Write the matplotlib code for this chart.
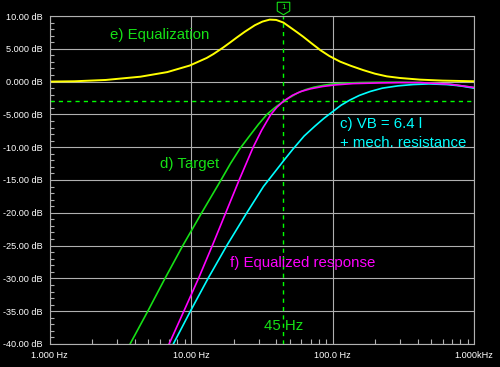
import numpy as np
import matplotlib.pyplot as plt
from matplotlib.ticker import FixedLocator, NullFormatter

plt.rcParams['font.family'] = ['Liberation Sans', 'DejaVu Sans']

# e) Equalization (yellow)
eq_f = [1.0, 1.5, 2.5, 4.4, 6.8, 9.8, 12.9, 14.4, 16.9, 19.0, 21.0, 24.0, 28.3, 32.0, 36.0,
        40.0, 45.0, 50.0, 56.0, 62.0, 70.0, 82.0, 95.0, 113.0, 135.0, 165.0, 200.0, 242.0,
        300.0, 415.0, 600.0, 1000.0]
eq_db = [0.0, 0.05, 0.25, 0.75, 1.45, 2.45, 3.6, 4.2, 5.2, 6.0, 6.7, 7.6, 8.6, 9.15, 9.45,
         9.4, 9.0, 8.3, 7.55, 6.85, 5.95, 4.8, 3.9, 3.05, 2.4, 1.75, 1.2, 0.8,
         0.55, 0.3, 0.15, 0.05]

# d) Target (green)
tg_f = [3.71, 4.95, 6.55, 8.75, 11.9, 16.3, 19.0, 22.2, 26.1, 30.0, 34.4, 39.0, 45.0, 51.0,
        57.0, 65.0, 74.0, 87.0, 101.0, 125.0, 156.0, 220.0, 300.0, 415.0, 675.0, 1000.0]
tg_db = [-40, -35, -30, -25, -20, -15, -12.5, -10.2, -8.2, -6.5, -5.0, -4.0, -3.0, -2.3,
         -1.7, -1.2, -0.85, -0.55, -0.35, -0.22, -0.15, -0.1, -0.1, -0.15, -0.4, -0.9]

# c) VB = 6.4 l + mech. resistance (cyan)
vb_f = [7.0, 7.5, 9.9, 13.2, 17.9, 24.8, 32.5, 45.0, 52.5, 63.0, 75.0, 87.0, 100.0, 115.0,
        133.0, 155.0, 185.0, 225.0, 290.0, 371.0, 480.0, 641.0, 800.0, 1000.0]
vb_db = [-42.8, -40, -35, -30, -25, -20, -16, -12.1, -10.3, -8.3, -6.8, -5.6, -4.6, -3.6,
         -2.8, -2.1, -1.5, -1.0, -0.65, -0.45, -0.35, -0.45, -0.65, -1.0]

# f) Equalized response (magenta)
er_f = [6.6, 7.0, 8.9, 11.3, 14.15, 17.6, 21.9, 27.5, 31.6, 36.7, 40.5, 45.0, 52.0, 60.0,
        70.0, 85.0, 105.0, 140.0, 217.0, 300.0, 415.0, 676.0, 1000.0]
er_db = [-41.3, -40, -35, -30, -25, -20, -15, -10, -7.4, -5.0, -3.9, -3.0, -2.1, -1.5,
         -1.1, -0.75, -0.5, -0.3, -0.2, -0.15, -0.15, -0.4, -0.9]

y_ticks = [10, 5, 0, -5, -10, -15, -20, -25, -30, -35, -40]
y_labels = ['10.00 dB', '5.000 dB', '0.000 dB', '-5.000 dB', '-10.00 dB', '-15.00 dB',
            '-20.00 dB', '-25.00 dB', '-30.00 dB', '-35.00 dB', '-40.00 dB']
x_ticks = [1, 10, 100, 1000]
x_labels = ['1.000 Hz', '10.00 Hz', '100.0 Hz', '1.000kHz']

marker_f = 45.0
marker_db = -3.0

green = '#16e016'
grid_c = '#b0b0b0'

fig = plt.figure(figsize=(5, 3.67), dpi=100, facecolor='black')
ax = fig.add_axes([0.099, 0.0627, 0.849, 0.8937], facecolor='black')

ax.set_xscale('log')
ax.set_xlim(1, 1000)
ax.set_ylim(-40, 10)

ax.set_yticks(y_ticks)
ax.set_yticklabels(y_labels)
ax.set_xticks(x_ticks)
ax.set_xticklabels(x_labels)
ax.yaxis.set_minor_locator(FixedLocator(np.arange(-40, 11, 1)))
minor_x = [m * d for d in (1, 10, 100) for m in range(2, 10)]
ax.xaxis.set_minor_locator(FixedLocator(minor_x))
ax.xaxis.set_minor_formatter(NullFormatter())

ax.tick_params(which='major', length=0, colors='white', labelsize=6.6, pad=5)
ax.tick_params(which='minor', direction='in', color=grid_c, width=0.8)
ax.tick_params(axis='y', which='minor', length=3.2)
ax.tick_params(axis='x', which='minor', length=3.8)

ax.grid(True, which='major', color=grid_c, linewidth=0.8)
for s in ax.spines.values():
    s.set_color(grid_c)
    s.set_linewidth(0.8)

# marker lines
ax.axvline(marker_f, color='#00ff00', linestyle=(0, (3, 3)), linewidth=1.0)
ax.axhline(marker_db, color='#00ff00', linestyle=(0, (3, 3)), linewidth=1.0)

# curves
ax.plot(eq_f, eq_db, color='#ffff00', linewidth=1.4)
ax.plot(tg_f, tg_db, color=green, linewidth=1.2)
ax.plot(vb_f, vb_db, color='#00ffff', linewidth=1.2)
ax.plot(er_f, er_db, color='#ff00ff', linewidth=1.2)

# cursor flag "1"
flag = [(-1, 1), (1, 1), (1, -0.4), (0, -1), (-1, -0.4), (-1, 1)]
ax.plot([marker_f], [11.2], marker=flag, markersize=9, markerfacecolor='black',
        markeredgecolor=green, markeredgewidth=0.8, clip_on=False)
ax.text(marker_f, 11.35, '1', color=green, fontsize=6, ha='center', va='center',
        clip_on=False)

# labels
ax.text(2.68, 7.1, 'e) Equalization', color=green, fontsize=10.8, va='center')
ax.text(6.04, -12.6, 'd) Target', color=green, fontsize=10.8, va='center')
ax.text(113, -6.4, 'c) VB = 6.4 l', color='#00ffff', fontsize=10.8, va='center')
ax.text(113, -9.4, '+ mech. resistance', color='#00ffff', fontsize=10.8, va='center')
ax.text(18.9, -27.7, 'f) Equalized response', color='#ff00ff', fontsize=10.8, va='center')
ax.text(32.8, -37.3, '45 Hz', color=green, fontsize=10.8, va='center')

fig.savefig('out.png', dpi=100, facecolor='black')
